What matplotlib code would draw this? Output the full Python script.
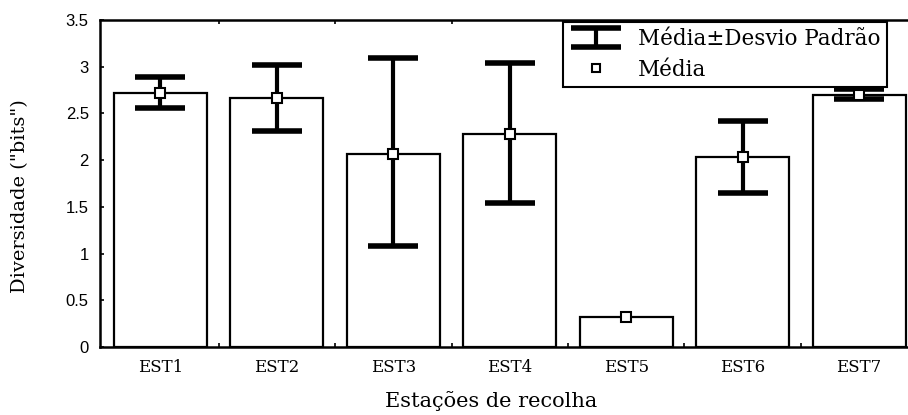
import numpy as np
import matplotlib.pyplot as plt
from matplotlib.lines import Line2D
from matplotlib.legend_handler import HandlerErrorbar

# data
stations = ['EST1', 'EST2', 'EST3', 'EST4', 'EST5', 'EST6', 'EST7']
mean = [2.72, 2.66, 2.07, 2.28, 0.32, 2.03, 2.70]
upper = [2.89, 3.02, 3.09, 3.04, 0.32, 2.42, 2.76]
lower = [2.56, 2.31, 1.08, 1.54, 0.32, 1.65, 2.65]

mean = np.array(mean)
upper = np.array(upper)
lower = np.array(lower)
x = np.arange(len(stations))
has_err = upper > lower  # EST5 has no visible spread

serif = 'DejaVu Serif'

fig = plt.figure(figsize=(9.08, 4.15), dpi=100)
ax = fig.add_axes([0.110, 0.164, 0.890, 0.788])

ax.bar(x, mean, width=0.8, color='white', edgecolor='black', linewidth=1.6, zorder=1)
eb = ax.errorbar(x[has_err], mean[has_err],
                 yerr=[mean[has_err] - lower[has_err], upper[has_err] - mean[has_err]],
                 fmt='none', ecolor='black', elinewidth=3,
                 capsize=18, capthick=4, zorder=2)
ax.plot(x, mean, 's', ms=7, mfc='white', mec='black', mew=1.5, ls='none', zorder=3)

ax.set_ylim(0, 3.5)
ax.set_xlim(-0.52, 6.42)
ax.set_yticks(np.arange(0, 3.51, 0.5))
ax.set_yticklabels(['0', '0.5', '1', '1.5', '2', '2.5', '3', '3.5'], family='Liberation Sans', fontsize=12)
ax.set_xticks(x)
ax.set_xticklabels(stations, family=serif, fontsize=12)
ax.set_xticks(x[:-1] + 0.5, minor=True)
ax.tick_params(axis='x', which='major', length=0, pad=9)
ax.tick_params(axis='x', which='minor', direction='in', length=3, top=True, width=1.2)
ax.tick_params(axis='y', direction='in', length=3, width=1.2, pad=8)

for s in ['left', 'bottom', 'top']:
    ax.spines[s].set_linewidth(1.8)
ax.spines['right'].set_visible(False)

ax.set_xlabel('Estações de recolha', family=serif, fontsize=15)
ax.xaxis.set_label_coords(0.484, -0.135)
ax.set_ylabel('Diversidade ("bits")', family=serif, fontsize=14)
ax.yaxis.set_label_coords(-0.087, 0.46)

mean_handle = Line2D([], [], marker='s', ms=6, mfc='white', mec='black', mew=1.5, ls='none')
leg = ax.legend([eb, mean_handle], ['Média±Desvio Padrão', 'Média'],
                handler_map={eb: HandlerErrorbar(yerr_size=0.45)},
                loc='upper right', bbox_to_anchor=(0.974, 0.994), fancybox=False,
                framealpha=1, edgecolor='black', prop={'family': serif, 'size': 15.5},
                borderpad=0.3, labelspacing=0.4, handlelength=2.5, handletextpad=0.7,
                borderaxespad=0)
leg.get_frame().set_linewidth(1.5)

fig.savefig('out.png', dpi=100)
